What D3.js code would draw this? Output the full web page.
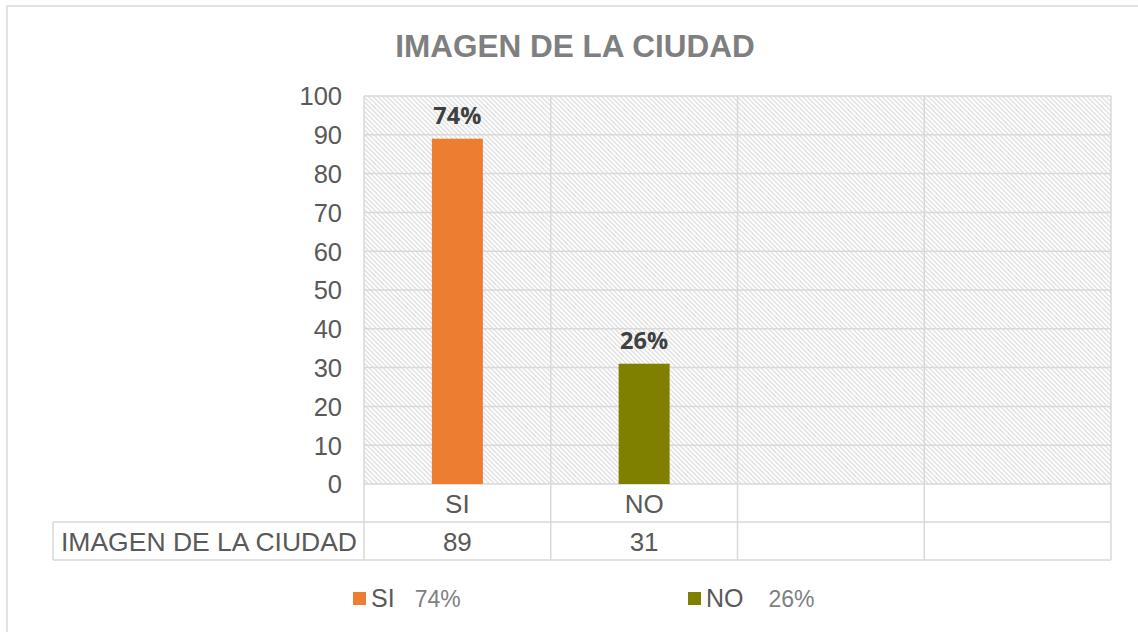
<!DOCTYPE html>
<html><head><meta charset="utf-8">
<script src="https://cdn.jsdelivr.net/npm/d3@7"></script>
<style>body{margin:0;background:#fff}svg{display:block}</style>
</head><body>
<svg id="c" width="1138" height="632"></svg>
<script>
const title = "IMAGEN DE LA CIUDAD";
const categories = ["SI", "NO", "", ""];
const values = [89, 31, null, null];
const percentLabels = ["74%", "26%", null, null];
const seriesName = "IMAGEN DE LA CIUDAD";
const yTicks = [0, 10, 20, 30, 40, 50, 60, 70, 80, 90, 100];
const legendItems = [{name: "SI", pct: "74%"}, {name: "NO", pct: "26%"}];
const colors = ["#ED7D31", "#808000"];

const svg = d3.select("#c");
const grid = "#d9d9d9";
const txt = "#595959";
const font = "'Liberation Sans', Arial, sans-serif";

// outer border
svg.append("rect").attr("x", 7).attr("y", 6).attr("width", 1150).attr("height", 650)
  .attr("fill", "#fff").attr("stroke", grid).attr("stroke-width", 1.5);

// hatch pattern
const defs = svg.append("defs");
const pat = defs.append("pattern").attr("id", "hatch").attr("patternUnits", "userSpaceOnUse")
  .attr("width", 3.3).attr("height", 3.3).attr("patternTransform", "rotate(-45)");
pat.append("rect").attr("width", 3.3).attr("height", 3.3).attr("fill", "#fff");
pat.append("line").attr("x1", 0.8).attr("y1", 0).attr("x2", 0.8).attr("y2", 3.3)
  .attr("stroke", "#dadada").attr("stroke-width", 1.2);

const L = 364, R = 1111, T = 96, B = 484;
const x = d3.scaleBand().domain(d3.range(categories.length)).range([L, R]).padding(0);
const y = d3.scaleLinear().domain([0, 100]).range([B, T]);

// title
svg.append("text").attr("x", 575).attr("y", 57).attr("text-anchor", "middle")
  .attr("font-family", font).attr("font-weight", "bold").attr("font-size", 31.5)
  .attr("fill", "#7f7f7f").text(title);

// plot area
svg.append("rect").attr("x", L).attr("y", T).attr("width", R - L).attr("height", B - T)
  .attr("fill", "url(#hatch)");

// horizontal gridlines
svg.append("g").selectAll("line").data(yTicks).join("line")
  .attr("x1", L).attr("x2", R).attr("y1", d => y(d)).attr("y2", d => y(d))
  .attr("stroke", grid).attr("stroke-width", 1.5);

// y axis labels
const yAxis = d3.axisLeft(y).tickValues(yTicks).tickSize(0).tickPadding(0);
const ya = svg.append("g").attr("transform", `translate(${L - 22},0)`).call(yAxis);
ya.select(".domain").remove();
ya.selectAll("text").attr("font-family", font).attr("font-size", 25.5).attr("fill", txt).attr("dy", "0.35em");

// table rows
const rowY1 = B, rowY2 = 522, rowY3 = 560, tableLeft = 53;
const vx = d3.range(categories.length + 1).map(i => i < categories.length ? x(i) : x(categories.length - 1) + x.bandwidth());
svg.append("g").selectAll("line").data(vx).join("line")
  .attr("x1", d => d).attr("x2", d => d).attr("y1", T).attr("y2", rowY3)
  .attr("stroke", grid).attr("stroke-width", 1.5);
svg.append("line").attr("x1", tableLeft).attr("x2", tableLeft).attr("y1", rowY2).attr("y2", rowY3)
  .attr("stroke", grid).attr("stroke-width", 1.5);
[rowY2, rowY3].forEach(yy => svg.append("line").attr("x1", tableLeft).attr("x2", R)
  .attr("y1", yy).attr("y2", yy).attr("stroke", grid).attr("stroke-width", 1.5));

// bars
const barW = x.bandwidth() * 0.273;
const data = categories.map((c, i) => ({c, i, v: values[i], p: percentLabels[i]})).filter(d => d.v != null);
svg.append("g").selectAll("rect").data(data).join("rect")
  .attr("x", d => x(d.i) + x.bandwidth() / 2 - barW / 2)
  .attr("y", d => y(d.v)).attr("width", barW).attr("height", d => y(0) - y(d.v))
  .attr("fill", d => colors[d.i]);

// data labels
svg.append("g").selectAll("text").data(data).join("text")
  .attr("x", d => x(d.i) + x.bandwidth() / 2).attr("y", d => y(d.v) - 15)
  .attr("text-anchor", "middle").attr("font-family", "'Open Sans', sans-serif").attr("font-weight", "bold")
  .attr("font-size", 23.5).attr("fill", "#404040").text(d => d.p);

// category labels in table
svg.append("g").selectAll("text").data(categories).join("text")
  .attr("x", (d, i) => x(i) + x.bandwidth() / 2).attr("y", (rowY1 + rowY2) / 2 + 9.5)
  .attr("text-anchor", "middle").attr("font-family", font).attr("font-size", 26).attr("fill", txt).text(d => d);
svg.append("g").selectAll("text").data(data).join("text")
  .attr("x", d => x(d.i) + x.bandwidth() / 2).attr("y", (rowY2 + rowY3) / 2 + 9.5)
  .attr("text-anchor", "middle").attr("font-family", font).attr("font-size", 26).attr("fill", txt).text(d => d.v);
svg.append("text").attr("x", (tableLeft + L) / 2 + 0.5).attr("y", (rowY2 + rowY3) / 2 + 9.5)
  .attr("text-anchor", "middle").attr("font-family", font).attr("font-size", 26.5).attr("fill", txt).text(seriesName);

// legend
const legX = [353, 688];
legendItems.forEach((it, i) => {
  const g = svg.append("g").attr("transform", `translate(${legX[i]},0)`);
  g.append("rect").attr("x", 0).attr("y", 592).attr("width", 13).attr("height", 13).attr("fill", colors[i]);
  const t = g.append("text").attr("x", 18).attr("y", 607).attr("font-family", font).attr("font-size", 25);
  t.append("tspan").attr("fill", txt).text(it.name);
  t.append("tspan").attr("fill", "#808080").attr("font-size", 23).attr("dx", i === 0 ? 20 : 25).text(it.pct);
});
</script>
</body></html>
